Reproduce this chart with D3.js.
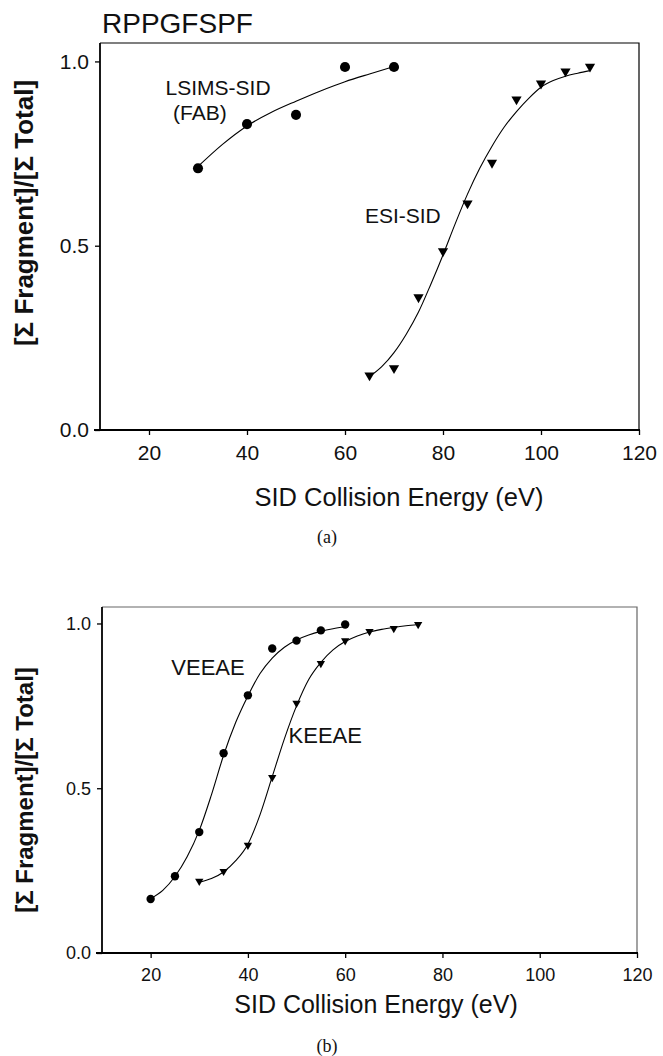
<!DOCTYPE html>
<html>
<head>
<meta charset="utf-8">
<script src="https://cdn.jsdelivr.net/npm/d3@7"></script>
<style>
  body { margin: 0; background: #fff; }
  svg { display: block; }
  text { font-family: "Liberation Sans", Arial, sans-serif; fill: #111; }
  .caption { font-family: "Liberation Serif", "Times New Roman", serif; }
</style>
</head>
<body>
<div id="chart"></div>
<script>
// ---- data ----
const energyTicks = [20, 40, 60, 80, 100, 120];
const ratioTicks = [0, 0.5, 1.0];

// panel (a) RPPGFSPF
const lsimsPoints = [[30, 0.71], [40, 0.83], [50, 0.855], [60, 0.985], [70, 0.985]];
const lsimsFit = [[30, 0.715], [35, 0.775], [40, 0.825], [45, 0.862], [50, 0.892], [55, 0.92], [60, 0.945], [65, 0.966], [70, 0.986]];
const esiPoints = [[65, 0.148], [70, 0.168], [75, 0.36], [80, 0.485], [85, 0.615], [90, 0.725], [95, 0.897], [100, 0.94], [105, 0.973], [110, 0.986]];
const esiFit = [[65, 0.145], [67.5, 0.172], [70, 0.21], [72.5, 0.26], [75, 0.32], [77.5, 0.395], [80, 0.475],
  [82.5, 0.56], [85, 0.64], [87.5, 0.71], [90, 0.77], [92.5, 0.822], [95, 0.864], [97.5, 0.9], [100, 0.93],
  [102.5, 0.948], [105, 0.96], [107.5, 0.968], [110, 0.975]];

// panel (b)
const veeaePoints = [[20, 0.164], [25, 0.233], [30, 0.367], [35, 0.606], [40, 0.782], [45, 0.924], [50, 0.948], [55, 0.979], [60, 0.997]];
const veeaeFit = [[20, 0.165], [22.5, 0.19], [25, 0.232], [27.5, 0.292], [30, 0.372], [32.5, 0.48], [35, 0.6], [37.5, 0.7],
  [40, 0.78], [42.5, 0.848], [45, 0.895], [47.5, 0.928], [50, 0.95], [52.5, 0.965], [55, 0.976], [57.5, 0.984], [60, 0.99]];
const keeaePoints = [[30, 0.218], [35, 0.248], [40, 0.327], [45, 0.533], [50, 0.758], [55, 0.879], [60, 0.948], [65, 0.976], [70, 0.985], [75, 0.997]];
const keeaeFit = [[30, 0.215], [32.5, 0.226], [35, 0.246], [37.5, 0.28], [40, 0.33], [42.5, 0.42], [45, 0.535], [47.5, 0.65],
  [50, 0.75], [52.5, 0.83], [55, 0.882], [57.5, 0.92], [60, 0.945], [62.5, 0.962], [65, 0.974], [67.5, 0.982], [70, 0.988], [72.5, 0.993], [75, 0.997]];

const width = 663, height = 1056;

const svg = d3.select("#chart").append("svg")
  .attr("width", width)
  .attr("height", height);

function drawPanel(p) {
  const x = d3.scaleLinear().domain([10, 120]).range([p.left, p.right]);
  const y = d3.scaleLinear().domain([0, 1.05]).range([p.bottom, p.top]);
  const g = svg.append("g");

  // frame (top + right)
  g.append("path")
    .attr("d", `M${p.left},${p.top}H${p.right}V${p.bottom}`)
    .attr("fill", "none")
    .attr("stroke", p.frameColor)
    .attr("stroke-width", 1.2);

  const xAxis = g.append("g")
    .attr("transform", `translate(0,${p.bottom})`)
    .call(d3.axisBottom(x).tickValues(energyTicks).tickSize(5).tickSizeOuter(0).tickPadding(p.xPad));
  const yAxis = g.append("g")
    .attr("transform", `translate(${p.left},0)`)
    .call(d3.axisLeft(y).tickValues(ratioTicks).tickFormat(d3.format(".1f")).tickSize(5).tickSizeOuter(0).tickPadding(6));

  [xAxis, yAxis].forEach(ax => {
    ax.select(".domain").attr("stroke", "#000").attr("stroke-width", 1.8);
    ax.selectAll(".tick line").attr("stroke", "#000").attr("stroke-width", 1.3);
    ax.selectAll(".tick text")
      .attr("font-family", '"Liberation Sans", Arial, sans-serif')
      .attr("font-size", p.tickFont)
      .attr("fill", "#111");
  });
  // extend y-domain to meet frame top
  yAxis.select(".domain").attr("d", `M0,${p.top}V${p.bottom}`);
  xAxis.select(".domain").attr("d", `M-6,0H${p.right - p.left + 1}`).attr("transform", `translate(${p.left},0)`);

  const line = d3.line()
    .x(d => x(d[0]))
    .y(d => y(d[1]))
    .curve(d3.curveMonotoneX);

  p.series.forEach(s => {
    g.append("path")
      .datum(s.fit)
      .attr("d", line)
      .attr("fill", "none")
      .attr("stroke", "#000")
      .attr("stroke-width", 1.1);

    const sym = d3.symbol().type(s.marker === "circle" ? d3.symbolCircle : d3.symbolTriangle).size(s.size);
    g.selectAll(null)
      .data(s.points)
      .join("path")
      .attr("d", sym)
      .attr("transform", d => `translate(${x(d[0])},${y(d[1])})` + (s.marker === "circle" ? "" : " rotate(180)"))
      .attr("fill", "#000");

    s.labels.forEach(l => {
      g.append("text")
        .attr("x", x(l.e))
        .attr("y", y(l.v))
        .attr("text-anchor", "middle")
        .attr("font-size", p.labelFont)
        .text(l.text);
    });
  });

  // axis titles
  g.append("text")
    .attr("x", p.xTitleX)
    .attr("y", p.xTitleY)
    .attr("text-anchor", "middle")
    .attr("font-size", p.xTitleFont)
    .text("SID Collision Energy (eV)");

  g.append("text")
    .attr("transform", `translate(${p.yTitleX},${p.yTitleY}) rotate(-90)`)
    .attr("text-anchor", "middle")
    .attr("font-size", p.yTitleFont)
    .attr("font-weight", "bold")
    .text("[Σ Fragment]/[Σ Total]");

  g.append("text")
    .attr("class", "caption")
    .attr("x", 327)
    .attr("y", p.captionY)
    .attr("text-anchor", "middle")
    .attr("font-size", 18)
    .text(p.caption);
}

svg.append("text")
  .attr("x", 102)
  .attr("y", 33)
  .attr("font-size", 28)
  .text("RPPGFSPF");

drawPanel({
  left: 100, right: 639, top: 43, bottom: 430,
  frameColor: "#000",
  tickFont: 21, labelFont: 21, xTitleFont: 25.5, yTitleFont: 26, xPad: 10,
  xTitleX: 399, xTitleY: 506, yTitleX: 33, yTitleY: 213,
  caption: "(a)", captionY: 543,
  series: [
    { points: lsimsPoints, fit: lsimsFit, marker: "circle", size: 80,
      labels: [{ text: "LSIMS-SID", e: 34.1, v: 0.908 }, { text: "(FAB)", e: 30.4, v: 0.84 }] },
    { points: esiPoints, fit: esiFit, marker: "triangle", size: 45,
      labels: [{ text: "ESI-SID", e: 71.8, v: 0.562 }] }
  ]
});

drawPanel({
  left: 102, right: 637, top: 607, bottom: 953,
  frameColor: "#666",
  tickFont: 18, labelFont: 22, xTitleFont: 25, yTitleFont: 24, xPad: 10,
  xTitleX: 376, xTitleY: 1013, yTitleX: 33, yTitleY: 790,
  caption: "(b)", captionY: 1052,
  series: [
    { points: veeaePoints, fit: veeaeFit, marker: "circle", size: 55,
      labels: [{ text: "VEEAE", e: 31.8, v: 0.843 }] },
    { points: keeaePoints, fit: keeaeFit, marker: "triangle", size: 30,
      labels: [{ text: "KEEAE", e: 55.9, v: 0.637 }] }
  ]
});
</script>
</body>
</html>
